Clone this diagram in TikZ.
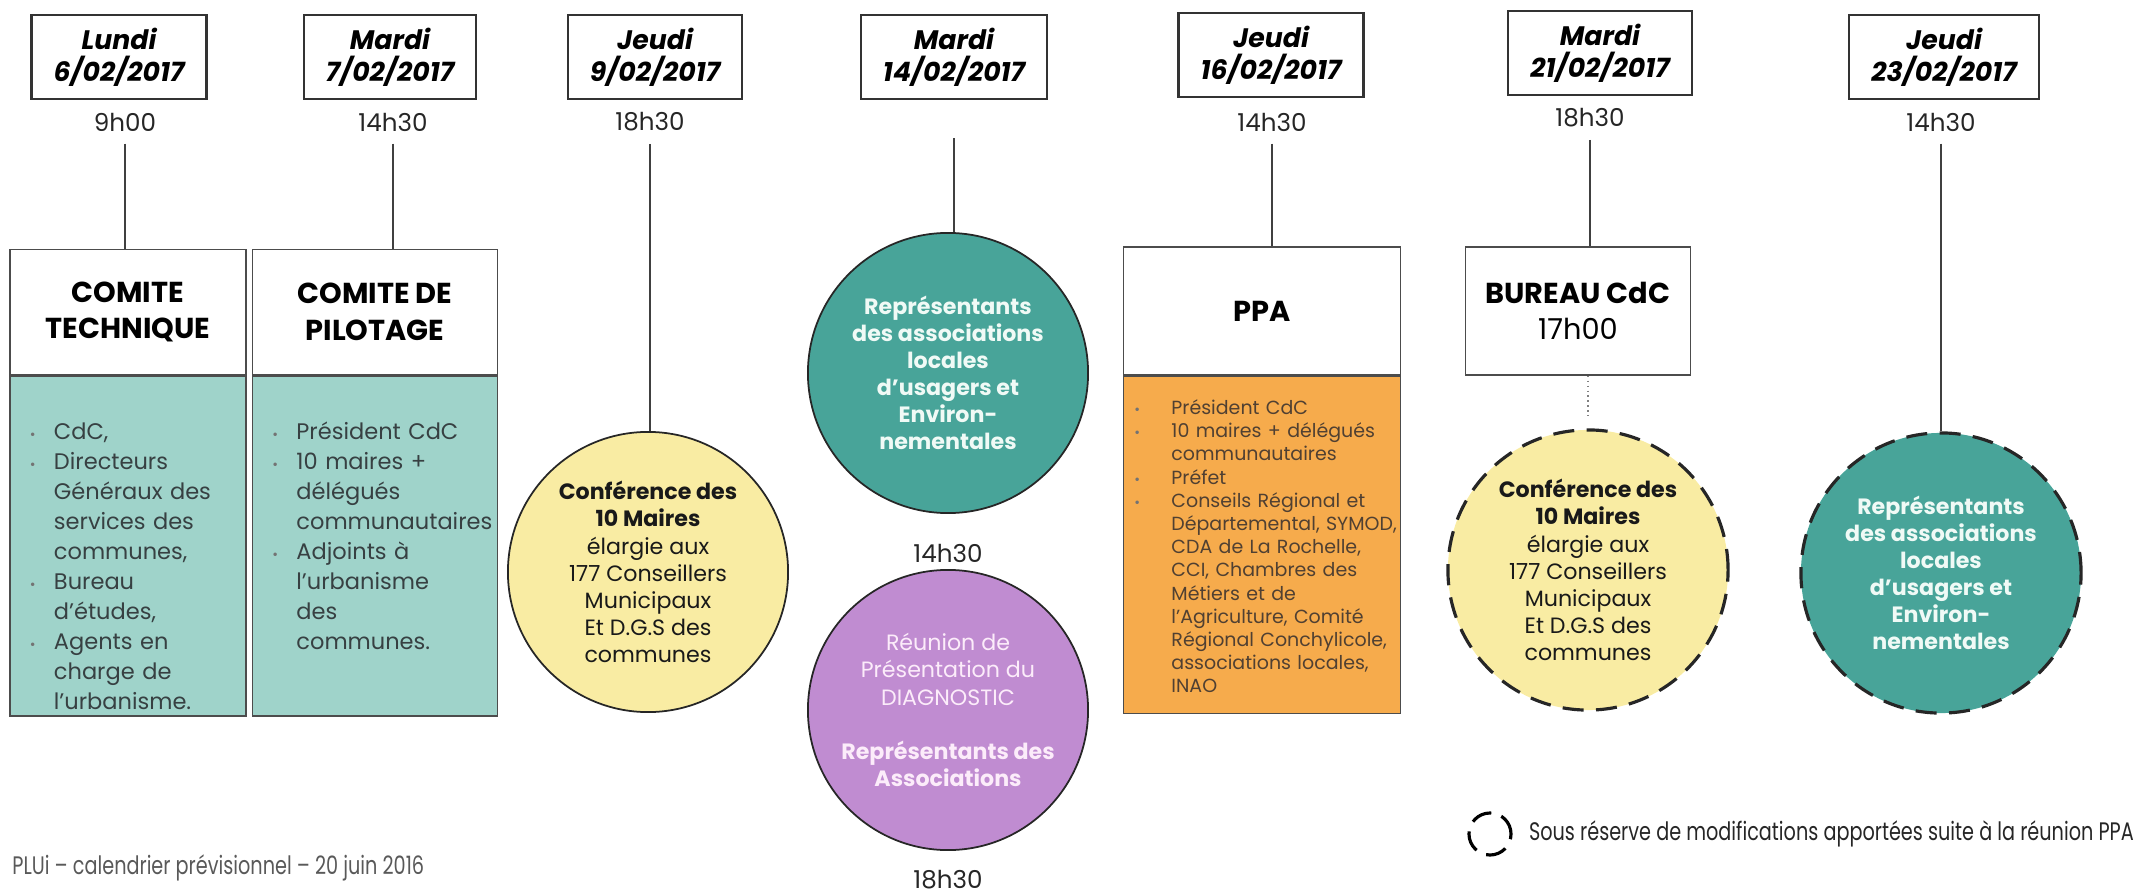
\documentclass[tikz,border=0pt]{standalone}
\usepackage{fontspec}
\setmainfont{Poppins}
\newfontfamily\narrowfont[FakeStretch=0.76]{Poppins}
\usetikzlibrary{positioning}

\definecolor{tealbox}{RGB}{159,211,202}
\definecolor{tealdisk}{RGB}{72,164,153}
\definecolor{yellowdisk}{RGB}{249,236,163}
\definecolor{purpledisk}{RGB}{192,140,209}
\definecolor{orangebox}{RGB}{246,171,76}
\definecolor{boxtext}{RGB}{55,64,66}
\definecolor{ppatext}{RGB}{80,64,50}
\definecolor{disktext}{RGB}{240,250,246}
\definecolor{purpletext}{RGB}{252,236,250}

\newcommand{\itemdot}[2]{\makebox[#2][l]{\hspace{#1}{\color{black!55}\fontsize{4}{4}\selectfont\textbullet}}}
\newcommand{\tbul}{\itemdot{0.12cm}{0.36cm}}
\newcommand{\pbul}{\itemdot{0.05cm}{0.42cm}}

\begin{document}
\begin{tikzpicture}[x=0.01cm, y=-0.01cm,
	datebox/.style={draw=black!80, line width=0.6pt, align=center, minimum width=1.65cm, minimum height=0.84cm, inner xsep=0.22cm, font=\fontsize{7.6}{9}\selectfont\bfseries\itshape},
	hour/.style={font=\fontsize{7}{8}\selectfont, text=black!85},
	titlebox/.style={draw=black!70, line width=0.4pt, fill=white, align=center, font=\fontsize{8.2}{10.4}\selectfont\bfseries},
	listbox/.style={draw=black!70, line width=0.4pt, align=left, inner ysep=0pt, text=boxtext, font=\fontsize{6.4}{8.5}\selectfont},
	disk/.style={circle, draw=black!85, line width=0.5pt, minimum size=2.8cm, inner sep=0pt, align=center, font=\fontsize{6.3}{7.7}\selectfont},
	maybe/.style={dash pattern=on 6pt off 3.5pt, line width=0.9pt},
	link/.style={draw=black!75, line width=0.45pt}]
	\useasboundingbox (0,0) rectangle (2154,894);

	% dates
	\node[datebox] (d1) at (119,57) {Lundi\\6/02/2017};
	\node[datebox] (d2) at (390,57) {Mardi\\7/02/2017};
	\node[datebox] (d3) at (655,57) {Jeudi\\9/02/2017};
	\node[datebox] (d4) at (954,57) {Mardi\\14/02/2017};
	\node[datebox] (d5) at (1271,55) {Jeudi\\16/02/2017};
	\node[datebox] (d6) at (1600,53) {Mardi\\21/02/2017};
	\node[datebox] (d7) at (1944,57) {Jeudi\\23/02/2017};

	\node[hour] (t1) at (125,122) {9h00};
	\node[hour] (t2) at (393,122) {14h30};
	\node[hour] (t3) at (650,122) {18h30};
	\node[hour] (t5) at (1272,122) {14h30};
	\node[hour] (t6) at (1590,118) {18h30};
	\node[hour] (t7) at (1941,122) {14h30};
	\node[hour] (t4a) at (948,553) {14h30};
	\node[hour] (t4b) at (948,880) {18h30};

	% comites
	\node[titlebox, minimum width=2.36cm, minimum height=1.25cm] (e1) at (128,312) {COMITE\\TECHNIQUE};
	\node[listbox, fill=tealbox, text width=2.2cm, inner xsep=0.08cm, text height=0.64cm, text depth=2.76cm, below=0pt of e1] (l1) {\begin{tabular}[t]{@{}l@{}l@{}}
		\tbul & CdC,\\
		\tbul & Directeurs\\
		& Généraux des\\
		& services des\\
		& communes,\\
		\tbul & Bureau\\
		& d’études,\\
		\tbul & Agents en\\
		& charge de\\
		& l’urbanisme.
	\end{tabular}};
	\node[titlebox, minimum width=2.45cm, minimum height=1.25cm] (e2) at (375,312) {COMITE DE\\PILOTAGE};
	\node[listbox, fill=tealbox, text width=2.29cm, inner xsep=0.08cm, text height=0.64cm, text depth=2.76cm, below=0pt of e2] (l2) {\begin{tabular}[t]{@{}l@{}l@{}}
		\tbul & Président CdC\\
		\tbul & 10 maires +\\
		& délégués\\
		& communautaires\\
		\tbul & Adjoints à\\
		& l’urbanisme\\
		& des\\
		& communes.
	\end{tabular}};

	% conferences et associations
	\node[disk, fill=yellowdisk, text=black!90] (c3) at (648,572) {{\bfseries Conférence des}\\{\bfseries 10 Maires}\\élargie aux\\177 Conseillers\\Municipaux\\Et D.G.S des\\communes};
	\node[disk, fill=tealdisk, text=disktext, font=\fontsize{6.3}{7.7}\selectfont\bfseries] (c4) at (948,373) {Représentants\\des associations\\locales\\d’usagers et\\Environ-\\nementales};
	\node[disk, fill=purpledisk, text=purpletext] (c5) at (948,710) {Réunion de\\Présentation du\\DIAGNOSTIC\\[7.7pt]{\bfseries Représentants des}\\{\bfseries Associations}};

	% PPA
	\node[titlebox, minimum width=2.77cm, minimum height=1.28cm] (e6) at (1262,311) {PPA};
	\node[listbox, fill=orangebox, text=ppatext, font=\fontsize{5.4}{6.6}\selectfont, text width=2.65cm, inner xsep=0.06cm, text height=0.38cm, text depth=2.99cm, below=0pt of e6] (l6) {\begin{tabular}[t]{@{}l@{}l@{}}
		\pbul & Président CdC\\
		\pbul & 10 maires + délégués\\
		& communautaires\\
		\pbul & Préfet\\
		\pbul & Conseils Régional et\\
		& Départemental, SYMOD,\\
		& CDA de La Rochelle,\\
		& CCI, Chambres des\\
		& Métiers et de\\
		& l’Agriculture, Comité\\
		& Régional Conchylicole,\\
		& associations locales,\\
		& INAO
	\end{tabular}};

	% bureau
	\node[titlebox, minimum width=2.25cm, minimum height=1.28cm] (e7) at (1578,311) {BUREAU CdC\\{\mdseries 17h00}};
	\node[disk, maybe, fill=yellowdisk, text=black!90] (c8) at (1588,570) {{\bfseries Conférence des}\\{\bfseries 10 Maires}\\élargie aux\\177 Conseillers\\Municipaux\\Et D.G.S des\\communes};
	\node[disk, maybe, fill=tealdisk, text=disktext, font=\fontsize{6.3}{7.7}\selectfont\bfseries] (c9) at (1941,573) {Représentants\\des associations\\locales\\d'usagers et\\Environ-\\nementales};

	\draw[link] (t1.south) -- (t1.south |- e1.north);
	\draw[link] (t2.south) -- (t2.south |- e2.north);
	\draw[link] (t3.south) -- (t3.south |- c3.north);
	\draw[link, shorten <=0.38cm] (d4.south) -- (d4.south |- c4.north);
	\draw[link] (t5.south) -- (t5.south |- e6.north);
	\draw[link] (t6.south) -- (t6.south |- e7.north);
	\draw[black!50, line width=0.4pt, densely dotted, shorten >=0.12cm] (e7.south -| c8.north) -- (c8.north);
	\draw[link] (t7.south) -- (c9.north);

	% legende
	\node[circle, draw, dash pattern=on 6pt off 3pt, line width=0.9pt, minimum size=0.42cm, inner sep=0pt] (k) at (1490,834) {};
	\node[right=0.04cm of k, font=\narrowfont\fontsize{7.2}{8}\selectfont, text=black!85] (ktxt) {Sous réserve de modifications apportées suite à la réunion PPA};
	\node[anchor=west, font=\narrowfont\fontsize{7.2}{8}\selectfont, text=black!65] (foot) at (0,868) {PLUi – calendrier prévisionnel – 20 juin 2016};
\end{tikzpicture}
\end{document}
